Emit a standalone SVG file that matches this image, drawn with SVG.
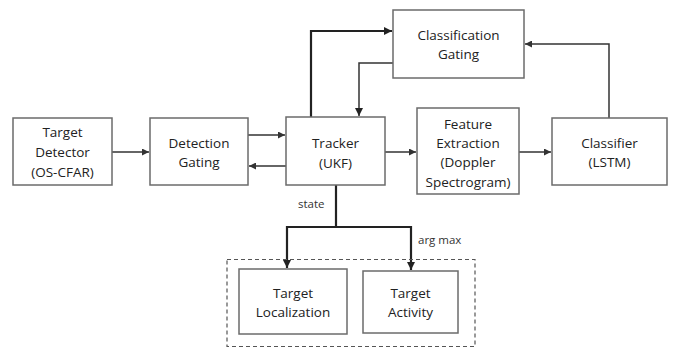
<svg xmlns="http://www.w3.org/2000/svg" width="674" height="349" viewBox="0 0 674 349">
<defs>
<style>
.box{fill:#fff;stroke:#6b6b6b;stroke-width:1.5}
.t{font-family:"Open Sans","Liberation Sans",sans-serif;font-size:13.5px;fill:#222;text-anchor:middle}
.s{font-family:"Open Sans","Liberation Sans",sans-serif;font-size:11.5px;fill:#333}
.c{fill:none;stroke:#333;stroke-width:1.5}
.k{fill:none;stroke:#222;stroke-width:2.2}
</style>
<marker id="a" viewBox="0 0 10 10" refX="10" refY="5" markerWidth="7" markerHeight="7" markerUnits="userSpaceOnUse" orient="auto"><path d="M0,0 L10,5 L0,10 z" fill="#333"/></marker>
<marker id="b" viewBox="0 0 10 10" refX="10" refY="5" markerWidth="8" markerHeight="8" markerUnits="userSpaceOnUse" orient="auto"><path d="M0,0 L10,5 L0,10 z" fill="#222"/></marker>
</defs>
<rect width="674" height="349" fill="#fff"/>
<g id="connectors">
<line class="c" x1="112" y1="152" x2="149" y2="152" marker-end="url(#a)"/>
<line class="c" x1="248" y1="135" x2="285" y2="135" stroke-width="2" marker-end="url(#a)"/>
<line class="c" x1="286" y1="166" x2="249" y2="166" marker-end="url(#a)"/>
<line class="c" x1="385" y1="152" x2="416" y2="152" marker-end="url(#a)"/>
<line class="c" x1="519" y1="152" x2="551" y2="152" marker-end="url(#a)"/>
<polyline class="k" points="311,117 311,31 392,31" marker-end="url(#b)"/>
<polyline class="c" points="393,63 359,63 359,116" stroke-width="1.8" marker-end="url(#b)"/>
<polyline class="c" points="609,118 609,44 525,44" stroke-width="1.8" marker-end="url(#a)"/>
<polyline class="k" points="336,185 336,227 287,227 287,268" marker-end="url(#b)"/>
<polyline class="k" points="336,227 411,227 411,270" marker-end="url(#b)"/>
<text class="s" x="298" y="208">state</text>
<text class="s" x="418" y="244">arg max</text>
</g>
<rect x="227" y="259.5" width="248" height="87" fill="none" stroke="#555" stroke-width="1.2" stroke-dasharray="4,3"/>
<g id="target-detector"><rect class="box" x="13" y="118" width="99" height="67"/>
<text class="t" x="62.5" y="137">Target</text><text class="t" x="62.5" y="157">Detector</text><text class="t" x="62.5" y="177">(OS-CFAR)</text></g>
<g id="detection-gating"><rect class="box" x="150" y="118" width="98" height="67"/>
<text class="t" x="199" y="148">Detection</text><text class="t" x="199" y="167">Gating</text></g>
<g id="tracker"><rect class="box" x="286" y="117" width="99" height="68"/>
<text class="t" x="335.5" y="148">Tracker</text><text class="t" x="335.5" y="168">(UKF)</text></g>
<g id="classification-gating"><rect class="box" x="393" y="10" width="131" height="68"/>
<text class="t" x="458.5" y="40">Classification</text><text class="t" x="458.5" y="59">Gating</text></g>
<g id="feature-extraction"><rect class="box" x="417" y="108" width="102" height="86"/>
<text class="t" x="468" y="129">Feature</text><text class="t" x="468" y="148">Extraction</text><text class="t" x="468" y="167">(Doppler</text><text class="t" x="468" y="187">Spectrogram)</text></g>
<g id="classifier"><rect class="box" x="552" y="118" width="115" height="67"/>
<text class="t" x="609.5" y="148">Classifier</text><text class="t" x="609.5" y="167">(LSTM)</text></g>
<g id="target-localization"><rect class="box" x="239" y="269" width="108" height="65"/>
<text class="t" x="293" y="298">Target</text><text class="t" x="293" y="317">Localization</text></g>
<g id="target-activity"><rect class="box" x="363" y="271" width="95" height="62"/>
<text class="t" x="410.5" y="298">Target</text><text class="t" x="410.5" y="317">Activity</text></g>
</svg>
